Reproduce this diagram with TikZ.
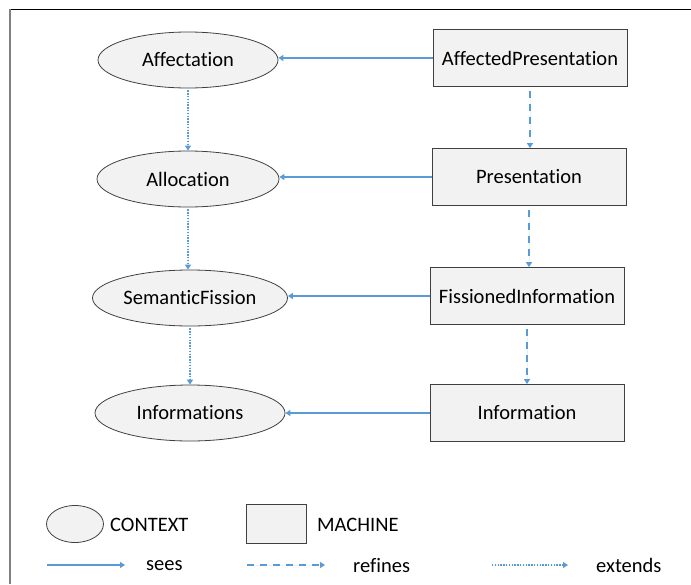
\documentclass[tikz,border=0pt]{standalone}
\usepackage{fontspec}
\setmainfont[Ligatures=NoCommon]{Carlito}
\usetikzlibrary{shapes.geometric,arrows.meta}
\definecolor{linkblue}{RGB}{91,155,213}
\definecolor{shapefill}{RGB}{242,242,242}
\definecolor{shapeline}{RGB}{64,64,64}
\newcommand{\diagfont}{\fontsize{20.5}{23}\selectfont}
\tikzset{
  ctx/.style={ellipse,draw=shapeline,fill=shapefill,line width=0.8pt,
    minimum width=#1,minimum height=56pt,inner sep=0pt,font=\diagfont},
  ctx/.default=182pt,
  mach/.style={rectangle,draw=shapeline,fill=shapefill,line width=0.8pt,
    minimum width=194pt,minimum height=57pt,inner sep=0pt,font=\diagfont},
  lbl/.style={anchor=west,inner sep=0pt,font=\diagfont},
  tip/.style={-{Triangle[length=5pt,width=6pt]}},
  sees/.style={tip,draw=linkblue,fill=linkblue,line width=2pt},
  refines/.style={tip,draw=linkblue,fill=linkblue,line width=2pt,dash pattern=on 7pt off 6pt},
  extends/.style={tip,draw=linkblue,fill=linkblue,line width=2pt,dash pattern=on 1.4pt off 1.4pt},
}
\begin{document}
\begin{tikzpicture}[x=1pt,y=-1pt]
\useasboundingbox (0,0) rectangle (691,584);
% frame
\draw[black,line width=1pt] (9,9) -- (691,9);
\draw[gray,line width=2pt] (10,9) -- (10,584);

% contexts
\node[ctx=180pt] (aff) at (188,60) {Affectation};
\node[ctx=182pt] (alloc) at (188,179) {Allocation};
\node[ctx=195pt] (sem) at (190,298) {SemanticFission};
\node[ctx=190pt] (infos) at (190,413) {Informations};

% machines
\node[mach] (affp) at (530,58) {AffectedPresentation};
\node[mach] (pres) at (529,177) {Presentation};
\node[mach] (fiss) at (527,296) {FissionedInformation};
\node[mach] (info) at (527,413) {Information};

% sees: horizontal links from each machine to its context
\draw[sees] (affp.west) -- (aff.east |- affp.west);
\draw[sees] (pres.west) -- (alloc.east |- pres.west);
\draw[sees] (fiss.west) -- (sem.east |- fiss.west);
\draw[sees] (info.west) -- (infos.east |- info.west);

% refines
\draw[refines] ([yshift=-4pt]affp.south) -- (affp.south |- pres.north);
\draw[refines] ([yshift=-4pt]pres.south) -- (pres.south |- fiss.north);
\draw[refines] ([yshift=-4pt]fiss.south) -- (fiss.south |- info.north);

% extends
\draw[extends] ([yshift=-2pt]aff.south) -- (aff.south |- alloc.north);
\draw[extends] ([yshift=-2pt]alloc.south) -- (alloc.south |- sem.north);
\draw[extends] ([yshift=-2pt]sem.south) -- (sem.south |- infos.north);

% legend
\node[ellipse,draw=shapeline,fill=shapefill,line width=0.8pt,minimum width=57pt,minimum height=37pt,inner sep=0pt] (lctx) at (75,524) {};
\node[lbl] (lctxt) at (110,525) {CONTEXT};
\node[rectangle,draw=shapeline,fill=shapefill,line width=0.8pt,minimum width=60pt,minimum height=39pt,inner sep=0pt] (lmach) at (276,523.5) {};
\node[lbl] (lmacht) at (317,525) {MACHINE};

\coordinate (s0) at (47,565); \coordinate (s1) at (125,565);
\coordinate (r0) at (247,565); \coordinate (r1) at (325,565);
\coordinate (e0) at (492,565); \coordinate (e1) at (568,565);
\draw[sees] (s0) -- (s1);
\draw[refines] (r0) -- (r1);
\draw[extends] (e0) -- (e1);
\node[lbl] (lsees) at (146,566) {sees};
\node[lbl] (lref) at (353,566) {refines};
\node[lbl] (lext) at (596,565) {extends};
\end{tikzpicture}
\end{document}
